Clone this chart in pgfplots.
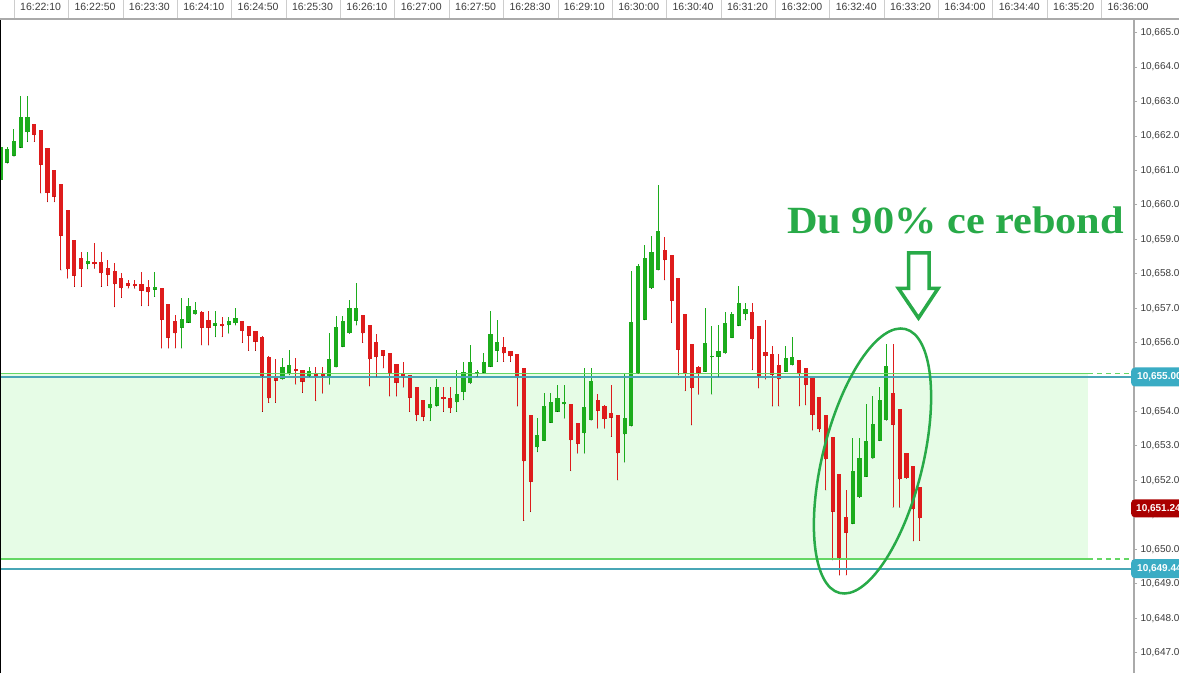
\documentclass[border=0pt]{standalone}
\usepackage{fontspec}
\setmainfont{Liberation Sans}
\newfontfamily\annoserif{Liberation Serif}
\usepackage{pgfplots}
\usepackage{pgfplotstable}
\pgfplotsset{compat=1.18}

\definecolor{cgreen}{RGB}{28,172,28}
\definecolor{cred}{RGB}{222,28,28}
\definecolor{zonefill}{RGB}{230,252,230}
\definecolor{zgreen}{RGB}{100,215,100}
\definecolor{tealc}{RGB}{72,166,182}
\definecolor{tealbox}{RGB}{58,172,196}
\definecolor{redbox}{RGB}{170,0,0}
\definecolor{annogreen}{RGB}{40,170,72}
\definecolor{tickgray}{RGB}{60,60,60}
\definecolor{axisgray}{RGB}{170,170,170}
\definecolor{sepgray}{RGB}{205,205,205}

\pgfplotsset{
  candle/.style 2 args={only marks, mark=*, mark size=0.01pt, mark options={draw=none, fill=none},
    error bars/.cd, y dir=plus, y explicit, error mark=none,
    error bar style={draw=#1, line width=#2, line cap=butt}},
}

% candles: index, open, high, low, close
\pgfplotstableread{
i o h l c
-2 10660.72 10661.88 10660.72 10661.69
-1 10661.23 10661.69 10661.21 10661.61
0 10661.42 10662.20 10661.42 10661.86
1 10661.66 10663.17 10661.66 10662.54
2 10662.11 10663.17 10661.84 10662.56
11 10658.28 10658.62 10658.14 10658.38
21 10657.54 10658.06 10657.34 10657.63
25 10656.43 10657.31 10655.84 10656.69
26 10656.58 10657.31 10656.58 10657.07
27 10656.82 10657.17 10656.82 10656.95
30 10656.49 10656.92 10656.17 10656.56
32 10656.51 10656.75 10656.27 10656.64
33 10656.56 10657.02 10656.51 10656.71
40 10654.94 10655.55 10654.94 10655.30
41 10655.13 10655.79 10655.06 10655.35
44 10655.03 10655.29 10655.03 10655.18
47 10655.03 10656.27 10654.79 10655.53
48 10655.29 10656.77 10655.29 10656.46
49 10655.88 10656.77 10655.88 10656.64
50 10656.27 10657.24 10656.27 10657.00
51 10656.64 10657.73 10656.51 10657.00
62 10654.09 10654.70 10653.73 10654.22
63 10654.16 10654.95 10654.16 10654.70
66 10654.27 10655.21 10654.00 10654.51
67 10654.57 10655.45 10654.34 10655.15
68 10654.82 10655.93 10654.82 10655.45
69 10655.11 10655.21 10655.01 10655.16
70 10655.13 10655.69 10655.13 10655.43
71 10655.30 10656.92 10655.30 10656.24
72 10655.77 10656.66 10655.45 10656.03
78 10652.96 10653.80 10652.83 10653.32
79 10653.15 10654.55 10653.15 10654.16
80 10653.68 10654.55 10653.68 10654.29
81 10654.00 10654.77 10654.00 10654.40
82 10654.21 10654.77 10653.80 10654.27
85 10653.37 10655.27 10652.79 10654.14
86 10653.75 10655.27 10653.75 10654.89
91 10653.34 10655.11 10652.53 10653.80
92 10653.58 10658.08 10653.58 10656.61
93 10655.11 10658.30 10655.11 10658.23
94 10656.66 10658.84 10656.66 10658.47
95 10657.58 10659.10 10657.58 10658.64
96 10658.11 10660.58 10658.11 10659.25
103 10655.16 10657.00 10655.16 10656.00
104 10655.58 10656.49 10654.50 10655.61
105 10655.59 10656.51 10655.01 10655.76
106 10655.69 10656.90 10655.69 10656.58
107 10656.14 10656.90 10656.14 10656.83
108 10656.49 10657.65 10656.49 10657.14
109 10656.82 10657.16 10656.66 10656.97
115 10655.16 10655.91 10655.16 10655.55
116 10655.35 10656.17 10655.35 10655.59
125 10650.74 10653.22 10650.74 10652.28
126 10651.51 10653.22 10651.51 10652.64
127 10652.11 10654.22 10652.11 10653.14
128 10652.64 10654.46 10652.64 10653.64
129 10653.15 10654.70 10653.15 10654.34
130 10653.75 10655.96 10653.75 10655.33
}\greentab

\pgfplotstableread{
i o h l c
3 10662.34 10662.34 10661.84 10662.03
4 10662.18 10662.18 10660.34 10661.16
5 10661.66 10661.66 10660.09 10660.35
6 10661.01 10661.01 10660.09 10660.24
7 10660.62 10660.62 10658.11 10659.10
8 10659.85 10659.85 10657.87 10658.13
9 10658.98 10658.98 10657.63 10657.94
10 10658.45 10658.64 10657.63 10658.14
12 10658.33 10658.89 10658.16 10658.28
13 10658.33 10658.64 10657.63 10658.01
14 10658.18 10658.40 10657.65 10657.97
15 10658.08 10658.30 10657.04 10657.70
16 10657.89 10658.01 10657.31 10657.58
17 10657.72 10657.82 10657.58 10657.65
18 10657.70 10657.82 10657.58 10657.64
19 10657.70 10658.06 10657.07 10657.51
20 10657.61 10657.82 10657.07 10657.46
22 10657.58 10657.58 10655.84 10656.66
23 10657.11 10657.11 10655.84 10656.14
24 10656.63 10656.80 10655.84 10656.27
28 10656.88 10656.92 10655.93 10656.43
29 10656.66 10656.92 10655.93 10656.43
31 10656.54 10656.75 10656.17 10656.48
34 10656.64 10656.64 10656.00 10656.34
35 10656.49 10656.49 10655.77 10656.20
36 10656.34 10656.34 10655.77 10656.03
37 10656.17 10656.19 10654.00 10655.01
38 10655.59 10655.61 10654.26 10654.38
39 10654.97 10655.52 10654.26 10654.90
42 10655.24 10655.55 10654.79 10655.18
43 10655.21 10655.21 10654.55 10654.87
45 10655.08 10655.29 10654.31 10655.03
46 10655.08 10655.29 10654.53 10655.01
52 10656.80 10656.80 10656.00 10656.27
53 10656.51 10656.51 10654.74 10655.52
54 10656.01 10656.24 10655.01 10655.58
55 10655.79 10655.79 10655.26 10655.62
56 10655.71 10655.71 10654.45 10655.11
57 10655.38 10655.38 10654.45 10654.84
58 10655.11 10655.45 10654.70 10654.99
59 10655.06 10655.06 10654.00 10654.40
60 10654.72 10654.72 10653.73 10653.90
61 10654.34 10654.34 10653.73 10653.85
64 10654.43 10654.70 10654.00 10654.36
65 10654.40 10654.70 10653.97 10654.09
73 10655.88 10656.16 10655.45 10655.69
74 10655.77 10655.77 10655.45 10655.61
75 10655.67 10655.67 10654.16 10654.97
76 10655.27 10655.27 10650.83 10652.56
77 10653.90 10653.90 10651.09 10651.96
83 10654.22 10654.22 10652.28 10653.17
84 10653.68 10653.68 10652.79 10653.06
87 10654.34 10654.50 10653.51 10654.02
88 10654.16 10654.19 10653.51 10653.78
89 10653.97 10654.77 10653.27 10653.82
90 10653.90 10653.90 10652.01 10652.79
97 10658.69 10659.08 10657.82 10658.40
98 10658.55 10658.55 10656.58 10657.21
99 10657.87 10657.87 10655.06 10655.79
100 10656.82 10656.82 10654.60 10655.13
101 10655.95 10655.95 10653.61 10654.68
102 10655.30 10655.32 10654.50 10655.13
110 10656.88 10657.16 10655.21 10656.10
111 10656.48 10656.48 10654.68 10655.01
112 10655.74 10656.66 10654.94 10655.61
113 10655.66 10655.90 10654.16 10655.06
114 10655.35 10655.67 10654.16 10654.94
117 10655.50 10655.50 10654.16 10655.08
118 10655.26 10655.27 10654.19 10654.77
119 10654.97 10654.97 10653.46 10653.90
120 10654.43 10654.43 10653.41 10653.48
121 10653.90 10653.90 10651.72 10652.61
122 10653.27 10653.27 10649.69 10651.09
123 10652.19 10652.19 10649.25 10649.74
124 10650.95 10651.72 10649.25 10650.48
131 10654.55 10655.96 10651.22 10653.61
132 10654.07 10654.07 10651.22 10652.03
133 10652.81 10652.81 10652.06 10652.06
134 10652.42 10652.42 10650.24 10651.16
135 10651.80 10651.80 10650.25 10650.90
}\redtab

\begin{document}
\begin{tikzpicture}
\useasboundingbox (0,0) rectangle (1179pt,673pt);
\fill[white] (0,0) rectangle (1179pt,673pt);
\clip (0,0) rectangle (1179pt,673pt);

\begin{axis}[
  at={(0,0)}, anchor=south west,
  scale only axis, width=1134pt, height=654pt,
  xmin=-2.086, xmax=166.91,
  ymin=10646.408, ymax=10665.398,
  clip=false,
  axis line style={draw=none},
  xtick=\empty,
  ytick={10647,10648,...,10665},
  scaled y ticks=false,
  ytick pos=right, yticklabel pos=right,
  tick align=outside, major tick length=3pt,
  tick style={color=axisgray, line width=1pt},
  yticklabel={\pgfmathprintnumber[fixed,fixed zerofill,precision=2,1000 sep={,},assume math mode=true]{\tick}},
  yticklabel style={font=\fontsize{10}{12}\selectfont, text=tickgray, anchor=west},
]
% zone
\addplot[fill=zonefill, draw=none] coordinates {(-3,10649.72) (160.05,10649.72) (160.05,10655.11) (-3,10655.11)} -- cycle;

% green wicks and bodies
\addplot[candle={cgreen}{1pt}] table[x=i, y=l, y error expr=\thisrow{h}-\thisrow{l}] {\greentab};
\addplot[candle={cgreen}{4.2pt}] table[x=i, y=o, y error expr=\thisrow{c}-\thisrow{o}] {\greentab};
% red wicks and bodies
\addplot[candle={cred}{1pt}] table[x=i, y=l, y error expr=\thisrow{h}-\thisrow{l}] {\redtab};
\addplot[candle={cred}{4.2pt}] table[x=i, y=c, y error expr=\thisrow{o}-\thisrow{c}] {\redtab};

% zone borders
\addplot[draw=zgreen, line width=1.5pt] coordinates {(-3,10655.11) (160.05,10655.11)};
\addplot[draw=zgreen, line width=1.5pt] coordinates {(-3,10649.72) (160.05,10649.72)};
\addplot[draw=zgreen, line width=1.2pt, dash pattern=on 5pt off 4pt] coordinates {(160.05,10655.11) (166.91,10655.11)};
\addplot[draw=zgreen, line width=1.2pt, dash pattern=on 5pt off 4pt] coordinates {(160.05,10649.72) (166.91,10649.72)};
% levels
\addplot[draw=tealc, line width=2pt] coordinates {(-3,10655) (166.91,10655)};
\addplot[draw=tealc, line width=2pt] coordinates {(-3,10649.44) (166.91,10649.44)};
\end{axis}

% frame
\draw[black, line width=1.5pt] (0.5pt,0) -- (0.5pt,654pt);
\draw[axisgray, line width=2pt] (1134pt,0) -- (1134pt,655pt);
\draw[axisgray, line width=2pt] (0,654pt) -- (1179pt,654pt);

% header
\foreach \k in {0,...,20} {
  \draw[sepgray, line width=1pt] ({(14.3+54.37*\k)*1pt},655pt) -- ({(14.3+54.37*\k)*1pt},673pt);
}
\foreach \t [count=\k from 0] in {16:22:10,16:22:50,16:23:30,16:24:10,16:24:50,16:25:30,16:26:10,16:27:00,16:27:50,16:28:30,16:29:10,16:30:00,16:30:40,16:31:20,16:32:00,16:32:40,16:33:20,16:34:00,16:34:40,16:35:20,16:36:00} {
  \node[anchor=west, inner sep=0pt, text=tickgray, font=\fontsize{10.5}{12}\selectfont] at ({(20.0+54.37*\k)*1pt},666.3pt) {\t};
}

% price labels
\fill[tealbox, rounded corners=4pt] (1131pt,286.5pt) rectangle (1200pt,305.5pt);
\node[anchor=west, inner sep=0pt, text=white, font=\bfseries\fontsize{10}{12}\selectfont] at (1137pt,296pt) {10,655.00};
\fill[redbox, rounded corners=4pt] (1131pt,155.7pt) rectangle (1200pt,173.7pt);
\node[anchor=west, inner sep=0pt, text=white, font=\bfseries\fontsize{10}{12}\selectfont] at (1136pt,164.7pt) {10,651.24};
\fill[tealbox, rounded corners=4pt] (1131pt,94.9pt) rectangle (1200pt,113.9pt);
\node[anchor=west, inner sep=0pt, text=white, font=\bfseries\fontsize{10}{12}\selectfont] at (1137pt,104.4pt) {10,649.44};

% annotation
\node[anchor=base west, inner sep=0pt, text=annogreen, xscale=1.1, font=\annoserif\bfseries\fontsize{38.5}{44}\selectfont] at (787pt,439.7pt) {Du 90\% ce rebond};
\draw[annogreen, line width=3.5pt, line join=miter] (908.5pt,420pt) -- (929pt,420pt) -- (929pt,384.5pt) -- (938pt,384.5pt) -- (918.5pt,355pt) -- (898.5pt,384.5pt) -- (908.5pt,384.5pt) -- cycle;
\draw[annogreen, line width=2.5pt, rotate around={76:(872.5pt,212pt)}] (872.5pt,212pt) ellipse (136pt and 50pt);
\end{tikzpicture}
\end{document}
